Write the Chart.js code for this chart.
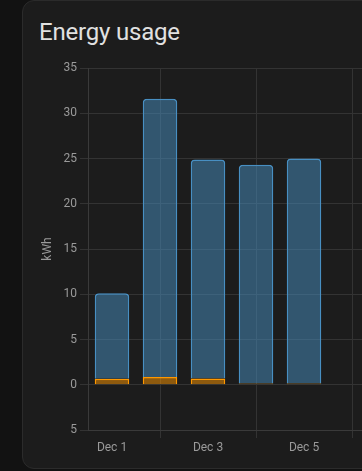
<!DOCTYPE html>
<html>
<head>
<meta charset="utf-8">
<script src="https://cdn.jsdelivr.net/npm/chart.js@4.4.0/dist/chart.umd.min.js"></script>
<style>
  html, body { margin: 0; padding: 0; background: #121212; overflow: hidden; }
  body { width: 362px; height: 471px; position: relative; font-family: Roboto, sans-serif; }
  .card {
    position: absolute; left: 22px; top: 0; width: 420px; height: 469px;
    background: #1c1c1c; border: 1px solid #2b2b2b; border-radius: 12px; box-sizing: border-box;
  }
  .card h1 {
    position: absolute; left: 16px; top: 17px; margin: 0;
    font: 400 24px Roboto, sans-serif; color: #e1e1e1; letter-spacing: -0.2px;
  }
  #wrap { position: absolute; left: 37px; top: 49px; width: 353px; height: 411px; }
</style>
</head>
<body>
<div class="card"><h1>Energy usage</h1></div>
<div id="wrap"><canvas id="usage"></canvas></div>
<script>
// values
const days = ["Dec 1", "Dec 2", "Dec 3", "Dec 4", "Dec 5", "Dec 6"];
const solarUsed = [0.65, 0.85, 0.7, 0.15, 0.15];
const fromGrid = [9.45, 30.75, 24.2, 24.15, 24.85];
const yTicks = { min: -5, max: 35, step: 5 };

const gridColor = "#333333";
const tickColor = "#9a9a9a";

const ctx = document.getElementById("usage");
new Chart(ctx, {
    type: 'bar',
    data: {
        labels: days,
        datasets: [{
            label: 'Solar',
            data: solarUsed,
            backgroundColor: 'rgba(255, 152, 0, 0.5)',
            borderColor: '#ff9800',
            borderWidth: 1.5,
            stack: 'usage'
        }, {
            label: 'Grid',
            data: fromGrid,
            backgroundColor: 'rgba(72, 143, 194, 0.5)',
            borderColor: '#488fc2',
            borderWidth: 1.5,
            borderRadius: { topLeft: 4, topRight: 4 },
            borderSkipped: 'bottom',
            stack: 'usage'
        }]
    },
    options: {
        responsive: true,
        maintainAspectRatio: false,
        animation: false,
        layout: { padding: { top: 19, right: 14, left: 0, bottom: 0 } },
        plugins: { legend: { display: false }, tooltip: { enabled: false } },
        scales: {
            x: {
                stacked: true,
                offset: true,
                grid: {
                    offset: false,
                    color: (c) => (c.index % 2 === 1 ? gridColor : 'transparent'),
                    tickLength: 8
                },
                border: { color: '#3a3a3a' },
                ticks: {
                    autoSkip: false,
                    maxRotation: 0,
                    color: tickColor,
                    font: { family: 'Roboto', size: 12 },
                    callback: function (v, i) { return i % 2 === 0 ? this.getLabelForValue(v) : ''; }
                },
                afterFit: (s) => { s.height = 30; }
            },
            y: {
                stacked: true,
                min: yTicks.min,
                max: yTicks.max,
                grid: { color: gridColor, tickLength: 8 },
                border: { color: '#3a3a3a' },
                ticks: {
                    stepSize: yTicks.step,
                    color: tickColor,
                    font: { family: 'Roboto', size: 12 },
                    callback: (v) => Math.abs(v)
                },
                title: {
                    display: true,
                    text: 'kWh',
                    color: tickColor,
                    font: { family: 'Roboto', size: 12 }
                },
                afterFit: (s) => { s.width = 51; }
            }
        }
    }
});
</script>
</body>
</html>
